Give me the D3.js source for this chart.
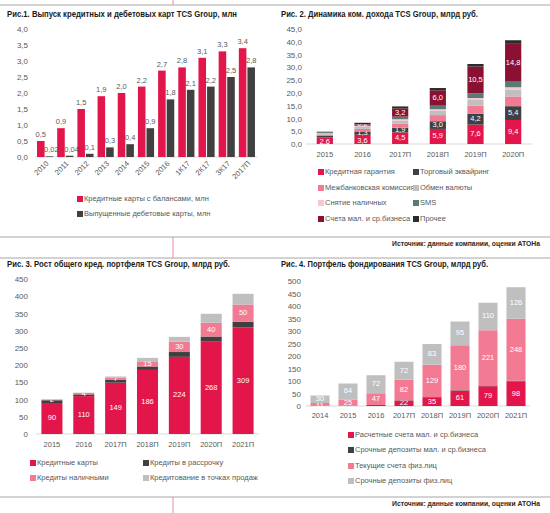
<!DOCTYPE html>
<html><head><meta charset="utf-8">
<script src="https://cdn.jsdelivr.net/npm/d3@7"></script>
<style>
body{margin:0;background:#fff;}
svg{font-family:"Liberation Sans",Arial,sans-serif;}
</style></head>
<body>
<svg id="c" width="550" height="513"></svg>
<script>
// ---------- DATA ----------
// Fig 1
const cats1 = ["2010","2011","2012","2013","2014","2015","2016","1К17","2К17","3К17","2017П"];
const creditCards = [0.5,0.9,1.5,1.9,2.0,2.2,2.7,2.8,3.1,3.3,3.4];
const debitCards  = [0.02,0.04,0.1,0.3,0.4,0.9,1.8,2.1,2.2,2.5,2.8];
const series1 = ["Кредитные карты с балансами, млн","Выпущенные дебетовые карты, млн"];
const ticks1 = [0,0.5,1,1.5,2,2.5,3,3.5,4];

// Fig 2
const cats2 = ["2015","2016","2017П","2018П","2019П","2020П"];
const series2 = ["Кредитная гарантия","Торговый эквайринг","Межбанковская комиссия","Обмен валюты","Снятие наличных","SMS","Счета мал. и ср.бизнеса","Прочее"];
const creditGuarantee = [2.6,3.6,4.5,5.9,7.6,9.4];
const acquiring       = [0.7,1.3,1.9,3.0,4.2,5.4];
const interchange     = [0.4,1.0,1.6,2.4,3.2,3.8];
const fxExchange      = [0.3,0.8,1.2,1.7,2.2,2.6];
const cashWithdrawal  = [0.2,0.3,0.5,0.6,0.8,1.0];
const sms             = [0.4,0.6,1.0,1.4,1.8,2.2];
const smeAccounts     = [0.0,0.2,3.2,6.0,10.5,14.8];
const otherIncome     = [0.2,0.5,0.8,0.9,1.0,1.4];
const ticks2 = [0,5,10,15,20,25,30,35,40,45];

// Fig 3
const cats3 = ["2015","2016","2017П","2018П","2019П","2020П","2021П"];
const series3 = ["Кредитные карты","Кредиты в рассрочку","Кредиты наличными","Кредитование в точках продаж"];
const loansCards   = [90,110,149,186,224,268,309];
const loansInstall = [8,5,8,10,14,15,17];
const loansCash    = [2,4,7,15,30,40,50];
const loansPOS     = [1,1,3,10,14,26,31];
const ticks3 = [0,50,100,150,200,250,300,350,400,450];

// Fig 4
const cats4 = ["2014","2015","2016","2017П","2018П","2019П","2020П","2021П"];
const series4 = ["Расчетные счета мал. и ср.бизнеса","Срочные депозиты мал. и ср.бизнеса","Текущие счета физ.лиц","Срочные депозиты физ.лиц"];
const smeCurrent   = [1,1,4,22,35,61,79,98];
const smeDeposits  = [0,0,0,1,1,2,3,3];
const retailCurrent= [11,25,47,82,129,180,221,248];
const retailDeposit= [30,64,72,72,83,95,110,126];
const ticks4 = [0,50,100,150,200,250,300,350,400,450,500];

const titles = ["Рис.1. Выпуск кредитных и дебетовых карт TCS Group, млн",
  "Рис. 2. Динамика ком. дохода TCS Group, млрд руб.",
  "Рис. 3. Рост общего кред. портфеля TCS Group, млрд руб.",
  "Рис. 4. Портфель фондирования TCS Group, млрд руб."];
const sourceText = "Источник: данные компании, оценки АТОНа";

// ---------- STYLE ----------
const RED="#E2164A", DARK="#404040", PINK="#F27B93", LGRAY="#BFBFBF", LPINK="#F8C6D1", TEAL="#587B76", DRED="#8B1133", BLACK="#2B2B2B";
const TXT="#595959";
const fmt = v => (v < 0.1 && v > 0 ? v.toFixed(2) : v.toFixed(1)).replace(".", ",");

const svg = d3.select("#c");

// frame lines
svg.append("line").attr("x1",0).attr("x2",550).attr("y1",5).attr("y2",5).attr("stroke","#A6A6A6").attr("stroke-width",1);
svg.append("line").attr("x1",173).attr("x2",173).attr("y1",0).attr("y2",5).attr("stroke","#EE8AA0");
svg.append("line").attr("x1",0).attr("x2",550).attr("y1",237).attr("y2",237).attr("stroke","#A6A6A6");
svg.append("line").attr("x1",0).attr("x2",550).attr("y1",258).attr("y2",258).attr("stroke","#A6A6A6");
svg.append("line").attr("x1",173).attr("x2",173).attr("y1",237).attr("y2",258).attr("stroke","#EE8AA0");
svg.append("line").attr("x1",0).attr("x2",550).attr("y1",497).attr("y2",497).attr("stroke","#A6A6A6");
svg.append("line").attr("x1",173).attr("x2",173).attr("y1",497).attr("y2",513).attr("stroke","#EE8AA0");

// titles
const titlePos = [[7,17,230],[281,17,197],[7,267,223],[281,267,207]];
titles.forEach((t,i)=>{
  svg.append("text").attr("x",titlePos[i][0]).attr("y",titlePos[i][1]).text(t)
    .attr("font-size",8.5).attr("font-weight","bold").attr("fill","#1a1a1a")
    .attr("textLength",titlePos[i][2]).attr("lengthAdjust","spacingAndGlyphs");
});
[[540,246],[540,506]].forEach(p=>{
  svg.append("text").attr("x",p[0]).attr("y",p[1]).attr("text-anchor","end").text(sourceText)
    .attr("font-size",7).attr("font-weight","bold").attr("fill","#262626")
    .attr("textLength",148).attr("lengthAdjust","spacingAndGlyphs");
});

function yAxis(y, ticks, xRight, f){
  const g = svg.append("g").attr("transform",`translate(${xRight},0)`)
    .call(d3.axisLeft(y).tickValues(ticks).tickSize(0).tickPadding(0).tickFormat(f));
  g.select(".domain").remove();
  g.selectAll("text").attr("fill",TXT).attr("font-size",8).attr("font-family","Liberation Sans, Arial");
}
function xAxisLine(x0,x1,yv){
  svg.append("line").attr("x1",x0).attr("x2",x1).attr("y1",yv).attr("y2",yv).attr("stroke","#D9D9D9");
}
function legend(items, colors, positions, fs){
  items.forEach((t,i)=>{
    const [lx,ly] = positions[i];
    svg.append("rect").attr("x",lx).attr("y",ly-3).attr("width",6).attr("height",6).attr("fill",colors[i]);
    svg.append("text").attr("x",lx+7).attr("y",ly).attr("dominant-baseline","middle")
      .attr("font-size",fs||8).attr("fill",TXT).text(t);
  });
}

// ---------- FIG 1 ----------
{
  const x = d3.scaleBand().domain(cats1).range([35,257]).paddingInner(0.2).paddingOuter(0.1);
  const xi = d3.scaleBand().domain([0,1]).range([0,x.bandwidth()]).paddingInner(0.12);
  const y = d3.scaleLinear().domain([0,4]).range([157,29]);
  yAxis(y, ticks1, 28, d=>d.toFixed(1).replace(".",","));
  xAxisLine(35,257,157);
  const vals = [creditCards, debitCards], cols=[RED,DARK];
  vals.forEach((arr,s)=>{
    svg.append("g").selectAll("rect").data(arr).join("rect")
      .attr("x",(d,i)=>x(cats1[i])+xi(s)).attr("width",xi.bandwidth())
      .attr("y",d=>y(d)).attr("height",d=>y(0)-y(d)).attr("fill",cols[s]);
    svg.append("g").selectAll("text").data(arr).join("text")
      .attr("x",(d,i)=>x(cats1[i])+xi(s)+xi.bandwidth()/2 + (s===1 && d<0.1 ? 2 : 0)).attr("y",d=>y(d)-4)
      .attr("text-anchor","middle").attr("font-size",7.5).attr("fill",TXT).text(d=>fmt(d));
  });
  svg.append("g").selectAll("text").data(cats1).join("text")
    .attr("transform",d=>`translate(${x(d)+x.bandwidth()/2+4},${164}) rotate(-45)`)
    .attr("text-anchor","end").attr("font-size",7.5).attr("fill",TXT).text(d=>d);
  legend(series1,[RED,DARK],[[77,199],[77,214]],7.5);
}

// ---------- FIG 2 ----------
{
  const x = d3.scaleBand().domain(cats2).range([306,532]).paddingInner(0.57).paddingOuter(0.285);
  const y = d3.scaleLinear().domain([0,45]).range([144,29]);
  yAxis(y, ticks2, 302, d=>d.toFixed(1).replace(".",","));
  xAxisLine(306,532,144);
  const arrs=[creditGuarantee,acquiring,interchange,fxExchange,cashWithdrawal,sms,smeAccounts,otherIncome];
  const cols=[RED,DARK,PINK,LGRAY,LPINK,TEAL,DRED,BLACK];
  const rows = cats2.map((c,i)=>{const o={cat:c}; series2.forEach((s,k)=>o[s]=arrs[k][i]); return o;});
  const stack = d3.stack().keys(series2)(rows);
  const labelled = [0,1,6];
  stack.forEach((layer,k)=>{
    svg.append("g").selectAll("rect").data(layer).join("rect")
      .attr("x",d=>x(d.data.cat)).attr("width",x.bandwidth())
      .attr("y",d=>y(d[1])).attr("height",d=>y(d[0])-y(d[1])).attr("fill",cols[k]);
    if(labelled.includes(k)){
      svg.append("g").selectAll("text").data(layer.filter(d=>(k===0) || (k===1 && d[1]-d[0]>=1.0) || (k===6 && d[1]-d[0]>=0.2))).join("text")
        .attr("x",d=>x(d.data.cat)+x.bandwidth()/2).attr("y",d=>y((d[0]+d[1])/2) + (k===0 && d[1]<4 ? 1.5 : 0))
        .attr("dominant-baseline","middle").attr("text-anchor","middle")
        .attr("font-size",7.5).attr("fill","#fff").text(d=>fmt(d[1]-d[0]));
    }
  });
  svg.append("g").selectAll("text").data(cats2).join("text")
    .attr("x",d=>x(d)+x.bandwidth()/2).attr("y",155).attr("dominant-baseline","middle")
    .attr("text-anchor","middle").attr("font-size",7.5).attr("fill",TXT).text(d=>d);
  legend(series2,cols,[[318,172],[413,172],[318,188],[413,188],[318,203],[413,203],[318,219],[413,219]],7.5);
}

// ---------- FIG 3 ----------
{
  const x = d3.scaleBand().domain(cats3).range([36,259]).paddingInner(0.34).paddingOuter(0.17);
  const y = d3.scaleLinear().domain([0,450]).range([434,279]);
  yAxis(y, ticks3, 28, d=>d);
  xAxisLine(36,259,434);
  const arrs=[loansCards,loansInstall,loansCash,loansPOS];
  const cols=[RED,DARK,PINK,LGRAY];
  const rows = cats3.map((c,i)=>{const o={cat:c}; series3.forEach((s,k)=>o[s]=arrs[k][i]); return o;});
  const stack = d3.stack().keys(series3)(rows);
  stack.forEach((layer,k)=>{
    svg.append("g").selectAll("rect").data(layer).join("rect")
      .attr("x",d=>x(d.data.cat)).attr("width",x.bandwidth())
      .attr("y",d=>y(d[1])).attr("height",d=>y(d[0])-y(d[1])).attr("fill",cols[k]);
    if(k===0||k===2){
      svg.append("g").selectAll("text").data(layer).join("text")
        .attr("x",d=>x(d.data.cat)+x.bandwidth()/2).attr("y",d=>y((d[0]+d[1])/2))
        .attr("dominant-baseline","middle").attr("text-anchor","middle")
        .attr("font-size",7.5).attr("fill","#fff").text(d=>d[1]-d[0]);
    }
  });
  svg.append("g").selectAll("text").data(cats3).join("text")
    .attr("x",d=>x(d)+x.bandwidth()/2).attr("y",445).attr("dominant-baseline","middle")
    .attr("text-anchor","middle").attr("font-size",7.5).attr("fill",TXT).text(d=>d);
  legend(series3,cols,[[30,463],[143,463],[30,478],[143,478]],7.5);
}

// ---------- FIG 4 ----------
{
  const x = d3.scaleBand().domain(cats4).range([306,530]).paddingInner(0.32).paddingOuter(0.16);
  const y = d3.scaleLinear().domain([0,500]).range([406,281]);
  yAxis(y, ticks4, 301, d=>d);
  xAxisLine(306,530,406);
  const arrs=[smeCurrent,smeDeposits,retailCurrent,retailDeposit];
  const cols=[RED,DARK,PINK,LGRAY];
  const rows = cats4.map((c,i)=>{const o={cat:c}; series4.forEach((s,k)=>o[s]=arrs[k][i]); return o;});
  const stack = d3.stack().keys(series4)(rows);
  stack.forEach((layer,k)=>{
    svg.append("g").selectAll("rect").data(layer).join("rect")
      .attr("x",d=>x(d.data.cat)).attr("width",x.bandwidth())
      .attr("y",d=>y(d[1])).attr("height",d=>y(d[0])-y(d[1])).attr("fill",cols[k]);
    if(k!==1){
      svg.append("g").selectAll("text").data(layer.filter(d=>d[1]-d[0]>=10)).join("text")
        .attr("x",d=>x(d.data.cat)+x.bandwidth()/2).attr("y",d=>y((d[0]+d[1])/2) + (k===2 && d[1]-d[0]<15 ? 1.5 : 0))
        .attr("dominant-baseline","middle").attr("text-anchor","middle")
        .attr("font-size",7.5).attr("fill","#fff").text(d=>d[1]-d[0]);
    }
  });
  svg.append("g").selectAll("text").data(cats4).join("text")
    .attr("x",d=>x(d)+x.bandwidth()/2).attr("y",416).attr("dominant-baseline","middle")
    .attr("text-anchor","middle").attr("font-size",7.5).attr("fill",TXT).text(d=>d);
  legend(series4,cols,[[348,435],[348,450],[348,466],[348,481]],7.5);
}
</script>
</body></html>
